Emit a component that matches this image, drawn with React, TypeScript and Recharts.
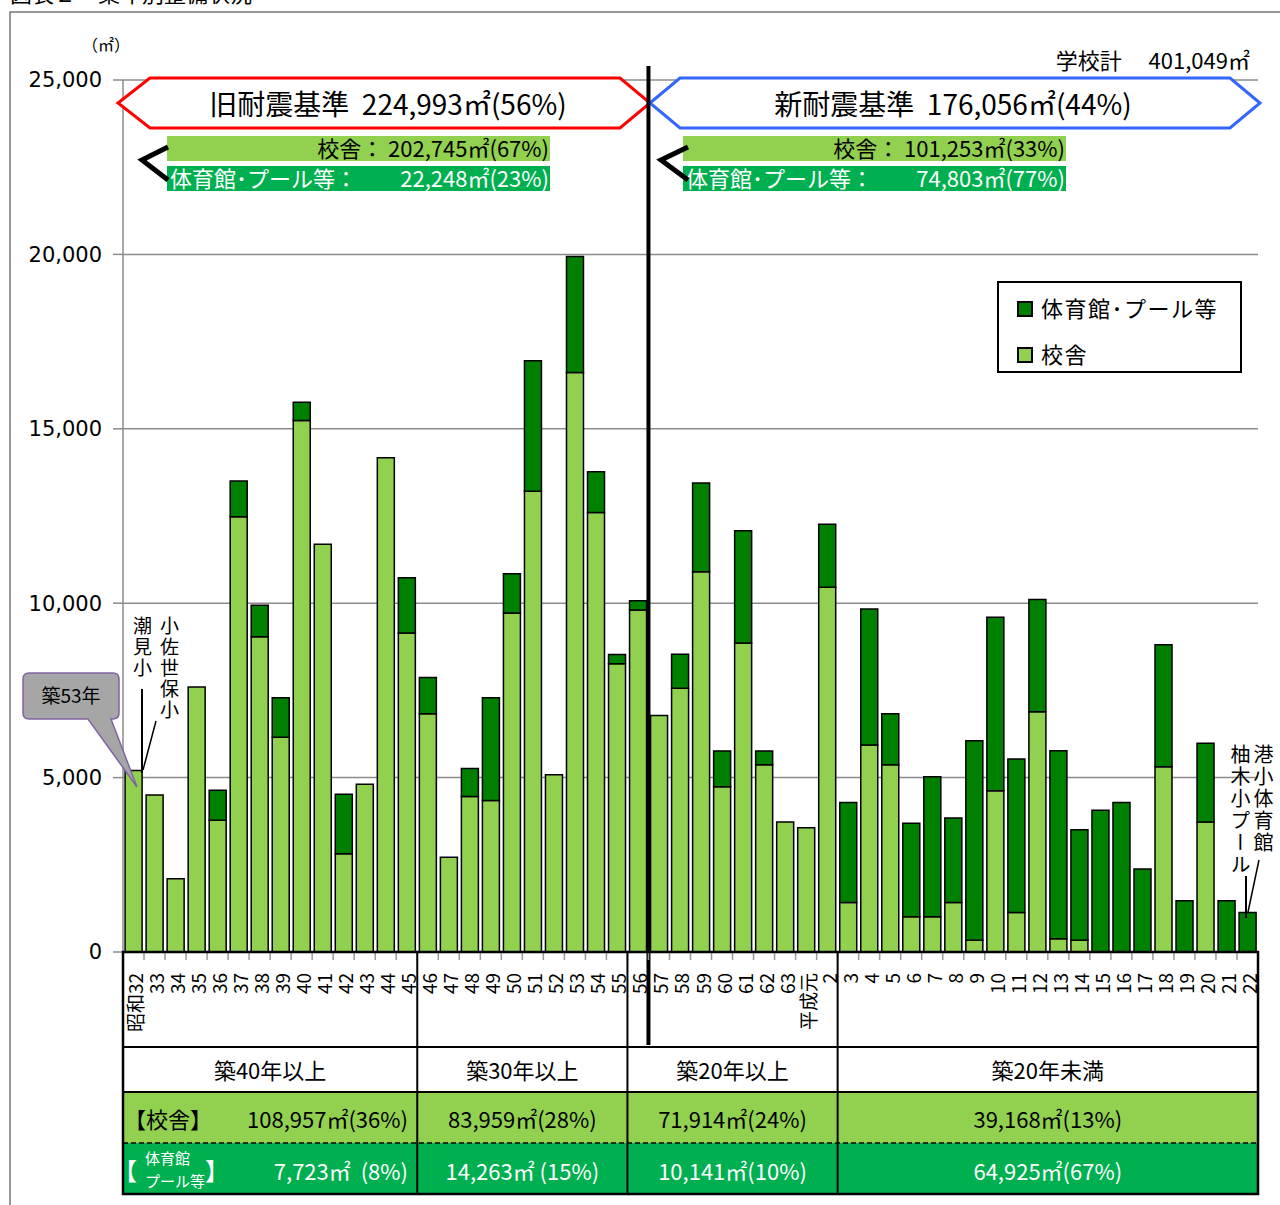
import React from 'react';
import { BarChart, Bar, XAxis, YAxis, CartesianGrid } from 'recharts';

// 建築年（昭和32年〜平成22年）
const YEARS = [
  '昭和32', '33', '34', '35', '36', '37', '38', '39', '40', '41', '42', '43', '44', '45',
  '46', '47', '48', '49', '50', '51', '52', '53', '54', '55',
  '56', '57', '58', '59', '60', '61', '62', '63', '平成元', '2',
  '3', '4', '5', '6', '7', '8', '9', '10', '11', '12', '13', '14', '15', '16', '17', '18', '19', '20', '21', '22',
];

// 校舎（㎡）
const SCHOOL = [
  5200, 4500, 2100, 7600, 3780, 12480, 9040, 6160, 15240, 11690, 2820, 4810, 14170, 9145,
  6830, 2715, 4456, 4340, 9717, 13211, 5080, 16614, 12600, 8262,
  9807, 6780, 7560, 10899, 4741, 8859, 5365, 3730, 3560, 10457,
  1416, 5936, 5365, 1013, 1013, 1416, 338, 4624, 1130, 6885, 377, 338, 0, 0, 0, 5313, 0, 3728, 0, 0,
];

// 体育館・プール等（㎡）
const GYM = [
  0, 0, 0, 0, 860, 1020, 900, 1130, 520, 0, 1700, 0, 0, 1585,
  1040, 0, 805, 2950, 1130, 3740, 0, 3325, 1170, 270,
  260, 0, 975, 2545, 1025, 3220, 400, 0, 0, 1805,
  2870, 3897, 1468, 2676, 4014, 2429, 5715, 4976, 4404, 3221, 5391, 3169, 4066, 4287, 2377, 3494, 1468, 2260, 1468, 1130,
];

const Y_TICKS = [0, 5000, 10000, 15000, 20000, 25000];

// 築年数区分と集計
const AGE_GROUPS = ['築40年以上', '築30年以上', '築20年以上', '築20年未満'];
const GROUP_SPANS = [14, 10, 10, 20];
const SCHOOL_TOTALS = ['108,957㎡(36%)', '83,959㎡(28%)', '71,914㎡(24%)', '39,168㎡(13%)'];
const GYM_TOTALS = ['7,723㎡  (8%)', '14,263㎡ (15%)', '10,141㎡(10%)', '64,925㎡(67%)'];

const OLD_STD_COUNT = 25; // 昭和56年まで旧耐震

const data = YEARS.map((label, i) => ({ label, school: SCHOOL[i], gym: GYM[i] }));

const W = 1280;
const H = 1205;
const PLOT_LEFT = 123;
const PLOT_RIGHT = 1258;
const PLOT_TOP = 80;
const PLOT_BOTTOM = 952;
const BAND = (PLOT_RIGHT - PLOT_LEFT) / YEARS.length;

const LIGHT = '#92D050';
const DARK = '#008000';
const TABLE_GREEN = '#00B050';
const JP = '"Noto Sans CJK JP", "Noto Sans", sans-serif';
const PRE = { whiteSpace: 'pre' } as const;

const XTick = ({ x, payload }: any) => (
  <text
    transform={`translate(${x + 1},${PLOT_BOTTOM + 21}) rotate(-90)`}
    textAnchor="end"
    dominantBaseline="central"
    fontSize={19}
    fontFamily={JP}
    fill="#000"
  >
    {payload.value}
  </text>
);

const LEGEND_ITEMS = [
  { name: '体育館･プール等', color: DARK, top: 10 },
  { name: '校舎', color: LIGHT, top: 56 },
];

const LegendBox = () => (
  <div
    style={{
      position: 'absolute',
      left: 997,
      top: 281,
      width: 241,
      height: 88,
      border: '2px solid #000',
      background: '#fff',
      fontFamily: JP,
      fontSize: 22,
    }}
  >
    {LEGEND_ITEMS.map((e) => (
      <div key={e.name} style={{ position: 'absolute', left: 18, top: e.top, display: 'flex', alignItems: 'center' }}>
        <span style={{ width: 12, height: 12, background: e.color, border: '2px solid #000', marginRight: 8, marginTop: 4 }} />
        <span style={{ lineHeight: '28px', letterSpacing: 1.5 }}>{e.name}</span>
      </div>
    ))}
  </div>
);

const VText = ({ text, left, top, size = 19 }: any) => (
  <div
    style={{
      position: 'absolute',
      left,
      top,
      writingMode: 'vertical-rl',
      fontFamily: JP,
      fontSize: size,
      lineHeight: 1,
      letterSpacing: 2,
      color: '#000',
    }}
  >
    {text}
  </div>
);

function Overlay() {
  const bx = (i: number) => PLOT_LEFT + BAND * i;
  const bounds: number[] = [0];
  GROUP_SPANS.forEach((s) => bounds.push(bounds[bounds.length - 1] + s));
  const ROW = { head: 1047, school: 1092, gym: 1143, end: 1194 };

  return (
    <svg width={W} height={H} style={{ position: 'absolute', left: 0, top: 0, pointerEvents: 'none' }} fontFamily={JP}>
      {/* 外枠 */}
      <rect x={10} y={12} width={W + 20} height={H + 20} fill="none" stroke="#777" strokeWidth={1.5} />

      {/* 単位 */}
      <text x={106} y={51} fontSize={16} textAnchor="middle">（㎡）</text>
      <text x={1250} y={69} fontSize={22} textAnchor="end" style={PRE}>学校計　 401,049㎡</text>

      {/* 旧耐震基準 */}
      <polygon points="118,103 150,78 620,78 650,103 620,128 150,128" fill="#fff" stroke="#FF0000" strokeWidth={3} />
      <text x={388} y={115} fontSize={28} textAnchor="middle" style={PRE}>旧耐震基準  224,993㎡(56%)</text>
      <rect x={167} y={136} width={383} height={25} fill={LIGHT} />
      <text x={549} y={157} fontSize={22} textAnchor="end" style={PRE}>校舎： 202,745㎡(67%)</text>
      <rect x={167} y={166} width={383} height={25} fill={TABLE_GREEN} />
      <text x={170} y={187} fontSize={22} fill="#fff">体育館･プール等：</text>
      <text x={549} y={187} fontSize={22} fill="#fff" textAnchor="end">22,248㎡(23%)</text>
      <polyline points="168,147 142,160 168,180" fill="none" stroke="#000" strokeWidth={5} />

      {/* 新耐震基準 */}
      <polygon points="650,103 680,78 1230,78 1260,103 1230,128 680,128" fill="#fff" stroke="#3366FF" strokeWidth={3} />
      <text x={953} y={115} fontSize={28} textAnchor="middle" style={PRE}>新耐震基準  176,056㎡(44%)</text>
      <rect x={683} y={136} width={383} height={25} fill={LIGHT} />
      <text x={1065} y={157} fontSize={22} textAnchor="end" style={PRE}>校舎： 101,253㎡(33%)</text>
      <rect x={683} y={166} width={383} height={25} fill={TABLE_GREEN} />
      <text x={686} y={187} fontSize={22} fill="#fff">体育館･プール等：</text>
      <text x={1065} y={187} fontSize={22} fill="#fff" textAnchor="end">74,803㎡(77%)</text>
      <polyline points="688,147 661,160 688,180" fill="none" stroke="#000" strokeWidth={5} />

      {/* 旧耐震/新耐震 境界線 */}
      <line x1={bx(OLD_STD_COUNT)} y1={66} x2={bx(OLD_STD_COUNT)} y2={1045} stroke="#000" strokeWidth={4} />

      {/* 吹き出し */}
      <path
        d="M29,673 H113 Q119,673 119,679 V713 Q119,719 113,719 H111 L137,787 L88,719 H29 Q23,719 23,713 V679 Q23,673 29,673 Z"
        fill="#A6A6A6"
        stroke="#8064A2"
        strokeWidth={1.5}
      />
      <text x={71} y={703} fontSize={19} textAnchor="middle">築53年</text>
      <line x1={142} y1={689} x2={142} y2={773} stroke="#000" strokeWidth={2} />
      <line x1={156} y1={721} x2={143} y2={770} stroke="#000" strokeWidth={1.5} />
      <line x1={1246} y1={876} x2={1246} y2={918} stroke="#000" strokeWidth={2} />
      <line x1={1259} y1={860} x2={1248} y2={912} stroke="#000" strokeWidth={1.5} />

      {/* 目盛り */}
      {YEARS.map((_, i) => (
        <line key={i} x1={bx(i + 1)} y1={PLOT_BOTTOM} x2={bx(i + 1)} y2={PLOT_BOTTOM + 8} stroke="#999" strokeWidth={1.5} />
      ))}

      {/* 表 */}
      {AGE_GROUPS.map((g, k) => {
        const x0 = bx(bounds[k]);
        const x1 = bx(bounds[k + 1]);
        const cx = (x0 + x1) / 2;
        return (
          <g key={g}>
            <rect x={x0} y={ROW.school} width={x1 - x0} height={ROW.gym - ROW.school} fill={LIGHT} />
            <rect x={x0} y={ROW.gym} width={x1 - x0} height={ROW.end - ROW.gym} fill={TABLE_GREEN} />
            <text x={cx} y={1079} fontSize={22} textAnchor="middle">{g}</text>
            {k === 0 ? (
              <>
                <text x={124} y={1128} fontSize={22}>【校舎】</text>
                <text x={408} y={1128} fontSize={22} textAnchor="end">{SCHOOL_TOTALS[k]}</text>
                <text x={113} y={1180} fontSize={24} fill="#fff">【</text>
                <text x={145} y={1164} fontSize={15} fill="#fff">体育館</text>
                <text x={145} y={1187} fontSize={15} fill="#fff">プール等</text>
                <text x={205} y={1180} fontSize={24} fill="#fff">】</text>
                <text x={408} y={1180} fontSize={22} fill="#fff" textAnchor="end" style={PRE}>{GYM_TOTALS[k]}</text>
              </>
            ) : (
              <>
                <text x={cx} y={1128} fontSize={22} textAnchor="middle">{SCHOOL_TOTALS[k]}</text>
                <text x={cx} y={1180} fontSize={22} fill="#fff" textAnchor="middle" style={PRE}>{GYM_TOTALS[k]}</text>
              </>
            )}
          </g>
        );
      })}
      <line x1={PLOT_LEFT} y1={ROW.gym} x2={PLOT_RIGHT} y2={ROW.gym} stroke="#000" strokeWidth={1.5} strokeDasharray="5 3" />
      {[ROW.head, ROW.school].map((y) => (
        <line key={y} x1={PLOT_LEFT} y1={y} x2={PLOT_RIGHT} y2={y} stroke="#000" strokeWidth={2} />
      ))}
      {bounds.map((b) => (
        <line key={b} x1={bx(b)} y1={PLOT_BOTTOM} x2={bx(b)} y2={ROW.end} stroke="#000" strokeWidth={2} />
      ))}
      <rect x={PLOT_LEFT} y={PLOT_BOTTOM} width={PLOT_RIGHT - PLOT_LEFT} height={ROW.end - PLOT_BOTTOM} fill="none" stroke="#000" strokeWidth={2.5} />
    </svg>
  );
}

export default function App() {
  return (
    <div style={{ position: 'absolute', left: 0, top: 0, width: W, height: H, background: '#fff', overflow: 'hidden' }}>
      <div style={{ position: 'absolute', left: 10, top: -24, fontFamily: JP, fontSize: 22, whiteSpace: 'nowrap' }}>
        図表２　築年別整備状況
      </div>
      <BarChart
        width={W}
        height={H}
        data={data}
        margin={{ top: PLOT_TOP, right: W - PLOT_RIGHT, bottom: H - PLOT_BOTTOM - 96, left: PLOT_LEFT - 60 }}
        barCategoryGap="10%"
      >
        <CartesianGrid horizontal vertical={false} stroke="#8c8c8c" strokeWidth={1.5} />
        <XAxis
          dataKey="label"
          interval={0}
          height={96}
          tickLine={false}
          axisLine={{ stroke: '#000', strokeWidth: 2 }}
          tick={<XTick />}
        />
        <YAxis
          width={60}
          domain={[0, 25000]}
          ticks={Y_TICKS}
          interval={0}
          tickSize={10}
          tickMargin={11}
          axisLine={{ stroke: '#8c8c8c', strokeWidth: 1.5 }}
          tickLine={{ stroke: '#8c8c8c', strokeWidth: 1.5 }}
          tickFormatter={(v: number) => v.toLocaleString('en-US')}
          tick={{ fill: '#000', fontSize: 21, fontFamily: '"DejaVu Sans", sans-serif' }}
        />
        <Bar dataKey="school" name="校舎" stackId="a" fill={LIGHT} stroke="#000" strokeWidth={1.5} isAnimationActive={false} />
        <Bar dataKey="gym" name="体育館・プール等" stackId="a" fill={DARK} stroke="#000" strokeWidth={1.5} isAnimationActive={false} />
      </BarChart>
      <Overlay />
      <LegendBox />
      <VText text="潮見小" left={133} top={616} />
      <VText text="小佐世保小" left={160} top={616} />
      <VText text="港小体育館" left={1253} top={744} size={20} />
      <VText text="柚木小プール" left={1230} top={744} size={20} />
    </div>
  );
}
